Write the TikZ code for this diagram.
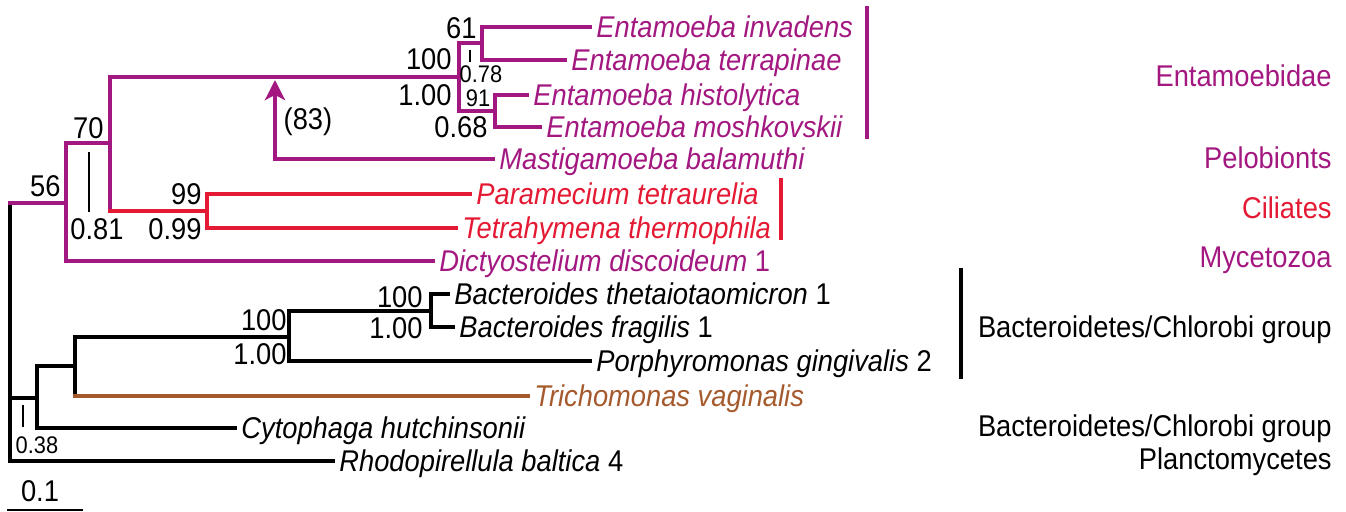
\documentclass[tikz,border=0pt]{standalone}
\usepackage{fontspec}
\setmainfont{Liberation Sans}[FakeStretch=0.91]
\usepackage{tikz}
\usetikzlibrary{calc,arrows.meta}

\definecolor{entpurple}{RGB}{163,24,128}
\definecolor{cilred}{RGB}{228,26,52}
\definecolor{tribrown}{RGB}{165,90,45}

\tikzset{
  br/.style={line width=1.8pt, line cap=rect},
  leaf/.style={anchor=west, inner xsep=3pt, inner ysep=0pt, text height=11pt, text depth=0pt},
  grp/.style={anchor=east, inner sep=0pt, text height=11pt, text depth=0pt},
  supp/.style={anchor=east, inner sep=0pt, text height=11pt, text depth=0pt},
  supps/.style={inner sep=0pt, font=\fontsize{12}{14}\selectfont, text height=8.6pt, text depth=0pt},
  tick/.style={line width=1pt},
}

\begin{document}
\begin{tikzpicture}[x=0.5pt, y=-0.5pt, font=\fontsize{15}{18}\selectfont]
  \useasboundingbox (0,0) rectangle (1346,512);
  % 内部節点
  \coordinate (root) at (10,203);
  \coordinate (n56)  at (66,203);
  \coordinate (n70)  at (110,143);
  \coordinate (nent) at (459,77);
  \coordinate (n61)  at (482,43);
  \coordinate (n91)  at (495,111);
  \coordinate (ncil) at (207,211);
  \coordinate (nb1)  at (37,398);
  \coordinate (nb2)  at (75,366);
  \coordinate (nbac) at (289,337);
  \coordinate (nbf)  at (431,311);
  \coordinate (arr)  at (275,80);
  % 葉
  \node[leaf, entpurple] (inv)  at (590,27)  {\textit{Entamoeba invadens}};
  \node[leaf, entpurple] (ter)  at (565,60)  {\textit{Entamoeba terrapinae}};
  \node[leaf, entpurple] (his)  at (527,95)  {\textit{Entamoeba histolytica}};
  \node[leaf, entpurple] (mos)  at (540,127) {\textit{Entamoeba moshkovskii}};
  \node[leaf, entpurple] (mas)  at (493,159) {\textit{Mastigamoeba balamuthi}};
  \node[leaf, cilred]    (par)  at (470,194) {\textit{Paramecium tetraurelia}};
  \node[leaf, cilred]    (tet)  at (456,228) {\textit{Tetrahymena thermophila}};
  \node[leaf, entpurple] (dic)  at (433,261) {\textit{Dictyostelium discoideum} 1};
  \node[leaf]            (bth)  at (448,294) {\textit{Bacteroides thetaiotaomicron} 1};
  \node[leaf]            (bfr)  at (453,327) {\textit{Bacteroides fragilis} 1};
  \node[leaf]            (por)  at (590,361) {\textit{Porphyromonas gingivalis} 2};
  \node[leaf, tribrown]  (tri)  at (528,396) {\textit{Trichomonas vaginalis}};
  \node[leaf]            (cyt)  at (235,428) {\textit{Cytophaga hutchinsonii}};
  \node[leaf]            (rho)  at (333,461) {\textit{Rhodopirellula baltica} 4};
  % 縦線
  \foreach \p/\a/\b/\col in {root/n56/rho/black, n56/n70/dic/entpurple,
      n70/nent/ncil/entpurple, nent/n61/n91/entpurple, n61/inv/ter/entpurple,
      n91/his/mos/entpurple, ncil/par/tet/cilred, nb1/nb2/cyt/black,
      nb2/nbac/tri/black, nbac/nbf/por/black, nbf/bth/bfr/black}
    \draw[br, \col] (\p |- \a) -- (\p |- \b);
  % 横線
  \foreach \p/\c/\col in {root/n56/entpurple, root/nb1/black, root/rho/black,
      n56/n70/entpurple, n56/dic/entpurple, n70/nent/entpurple, n70/ncil/cilred,
      nent/n61/entpurple, nent/n91/entpurple, n61/inv/entpurple, n61/ter/entpurple,
      n91/his/entpurple, n91/mos/entpurple, ncil/par/cilred, ncil/tet/cilred,
      nb1/nb2/black, nb1/cyt/black, nb2/nbac/black, nb2/tri/tribrown,
      nbac/nbf/black, nbac/por/black, nbf/bth/black, nbf/bfr/black}
    \draw[br, \col] (\p |- \c) -- (\c);
  % Mastigamoeba の矢印
  \draw[br, entpurple, -{Stealth[length=10pt, width=10pt, inset=2.5pt]}] (mas.west) -| (arr);
  \node (s83) at (308,122) {(83)};
  % 支持値
  \node[supp] (s56)  at (61,186)  {56};
  \node[supp] (s70)  at (104,128) {70};
  \node[supp] (p81)  at (124,229) {0.81};
  \node[supp] (s99)  at (202,194) {99};
  \node[supp] (p99)  at (202,229) {0.99};
  \node[supp] (s61)  at (477,28)  {61};
  \node[supp] (s100) at (452,59)  {100};
  \node[supp] (p100) at (452,95)  {1.00};
  \node[supp] (p68)  at (488,127) {0.68};
  \node[supps] (p78) at (481,74)  {0.78};
  \node[supps] (s91) at (478,98)  {91};
  \node[supp] (sb100) at (287,320) {100};
  \node[supp] (pb100) at (287,354) {1.00};
  \node[supp] (sf100) at (423,297) {100};
  \node[supp] (pf100) at (423,328) {1.00};
  \node[supps] (p38) at (37,445)  {0.38};
  \draw[tick] (89,152) -- (89,212);
  \draw[tick] (470,50) -- (470,62);
  \draw[tick] (23,405) -- (23,427);
  % 群のバー
  \draw[br, entpurple] (867,8) -- (867,137);
  \draw[br, cilred] (781,180) -- (781,238);
  \draw[br] (961,270) -- (961,377);
  % 群の名前
  \node[grp, entpurple] (gent) at (1332,76)  {Entamoebidae};
  \node[grp, entpurple] (gpel) at (1332,158) {Pelobionts};
  \node[grp, cilred]    (gcil) at (1332,208) {Ciliates};
  \node[grp, entpurple] (gmyc) at (1332,257) {Mycetozoa};
  \node[grp]            (gbc1) at (1332,327) {Bacteroidetes/Chlorobi group};
  \node[grp]            (gbc2) at (1332,426) {Bacteroidetes/Chlorobi group};
  \node[grp]            (gpla) at (1332,459) {Planctomycetes};
  % スケール
  \draw[line width=1pt] (7,510) -- (83,510);
  \node (scale) at (40,491) {0.1};
\end{tikzpicture}
\end{document}
